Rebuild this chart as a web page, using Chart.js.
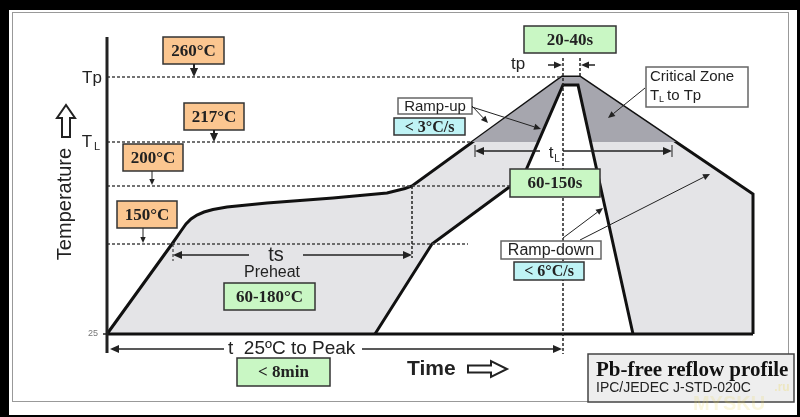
<!DOCTYPE html>
<html>
<head>
<meta charset="utf-8">
<script src="https://cdn.jsdelivr.net/npm/chart.js"></script>
<style>
  html, body { margin: 0; padding: 0; background: #000; }
  canvas { display: block; }
</style>
</head>
<body>
<canvas id="reflowChart" width="800" height="417"></canvas>
<script>
// Schematic units: time along the baseline, height above 25°C
const levelLabels = ['25', '150°C', '200°C', '217°C', '260°C'];
const levelHeights = [0, 90, 148, 192, 257];
const levelLineEnds = [0, 361, 403, 365, 453];

// outer profile (slowest allowed)
const outerTime = [0, 65, 74, 79, 84, 90, 97, 106, 120, 160, 226, 280, 298, 305, 455, 473, 646, 646];
const outerHeight = [0, 90, 103, 110, 115, 119, 122, 124.5, 127, 131, 136, 141, 145.5, 148, 257, 257, 140, 0];

// inner profile (fastest allowed)
const innerTime = [268, 325, 416, 456, 471, 526];
const innerHeight = [0, 90, 157, 249, 249, 0];

// critical zone, TL to Tp
const critTime = [365, 455, 473, 569];
const critHeight = [192, 257, 257, 192];

const toPts = (xs, ys) => xs.map((x, i) => ({ x: x, y: ys[i] }));

function seg(ctx, x1, y1, x2, y2, w, dash) {
  ctx.save();
  ctx.lineWidth = w;
  ctx.strokeStyle = '#222';
  ctx.setLineDash(dash || []);
  ctx.beginPath();
  ctx.moveTo(x1, y1);
  ctx.lineTo(x2, y2);
  ctx.stroke();
  ctx.restore();
}

function arrow(ctx, x1, y1, x2, y2, w, head) {
  const a = Math.atan2(y2 - y1, x2 - x1);
  const bx = x2 - head * Math.cos(a), by = y2 - head * Math.sin(a);
  seg(ctx, x1, y1, bx, by, w);
  const hw = head * 0.45;
  ctx.save();
  ctx.fillStyle = '#222';
  ctx.beginPath();
  ctx.moveTo(x2, y2);
  ctx.lineTo(bx + hw * Math.sin(a), by - hw * Math.cos(a));
  ctx.lineTo(bx - hw * Math.sin(a), by + hw * Math.cos(a));
  ctx.closePath();
  ctx.fill();
  ctx.restore();
}

function box(ctx, x1, y1, x2, y2, fill, stroke, w) {
  ctx.save();
  ctx.fillStyle = fill;
  ctx.fillRect(x1, y1, x2 - x1, y2 - y1);
  ctx.lineWidth = w;
  ctx.strokeStyle = stroke;
  ctx.strokeRect(x1, y1, x2 - x1, y2 - y1);
  ctx.restore();
}

function text(ctx, str, x, y, font, align, color) {
  ctx.save();
  ctx.font = font;
  ctx.fillStyle = color || '#222';
  ctx.textAlign = align || 'center';
  ctx.textBaseline = 'middle';
  ctx.fillText(str, x, y);
  ctx.restore();
}

// hollow block arrow, like ⇨ / ⇧
function hollowArrow(ctx, pts) {
  ctx.save();
  ctx.fillStyle = '#fff';
  ctx.strokeStyle = '#222';
  ctx.lineWidth = 2;
  ctx.beginPath();
  pts.forEach((p, i) => i ? ctx.lineTo(p[0], p[1]) : ctx.moveTo(p[0], p[1]));
  ctx.closePath();
  ctx.fill();
  ctx.stroke();
  ctx.restore();
}

const panel = {
  id: 'panel',
  beforeDraw(chart) {
    const ctx = chart.ctx;
    ctx.save();
    ctx.fillStyle = '#000';
    ctx.fillRect(0, 0, chart.width, chart.height);
    ctx.fillStyle = '#fff';
    ctx.fillRect(9, 10, 788, 405);
    ctx.strokeStyle = '#999';
    ctx.lineWidth = 1;
    ctx.strokeRect(12.5, 12.5, 776, 389);
    ctx.restore();
  }
};

const ORANGE = '#fbc690', GREEN = '#c9f7c4', CYAN = '#bff3f5';
const SERIF = 'bold 17px "Liberation Serif"';
const SANS = '"Liberation Sans", Arial, sans-serif';

const annotate = {
  id: 'annotate',
  afterDatasetsDraw(chart) {
    const ctx = chart.ctx;
    const X = t => chart.scales.x.getPixelForValue(t);
    const Y = h => chart.scales.y.getPixelForValue(h);
    const ubox = (t1, h1, t2, h2, fill, str, font) => {
      box(ctx, X(t1), Y(h1), X(t2), Y(h2), fill, fill === '#fff' ? '#666' : '#333', 1.5);
      text(ctx, str, (X(t1) + X(t2)) / 2, (Y(h1) + Y(h2)) / 2 + 1, font || SERIF);
    };

    // y axis
    seg(ctx, X(0), Y(297), X(0), Y(-19), 3);
    seg(ctx, X(-4), Y(0), X(0), Y(0), 1.5);
    text(ctx, levelLabels[0], X(-14), Y(0), '9px ' + SANS, 'center', '#777');
    text(ctx, 'Tp', X(-15), Y(levelHeights[4]) + 1, '17px ' + SANS);
    text(ctx, 'T', X(-20), Y(levelHeights[3]), '17px ' + SANS);
    text(ctx, 'L', X(-10), Y(levelHeights[3]) + 5, '11px ' + SANS);

    // axis titles
    ctx.save();
    ctx.translate(X(-42), Y(130));
    ctx.rotate(-Math.PI / 2);
    text(ctx, 'Temperature', 0, 0, '20px ' + SANS);
    ctx.restore();
    const ax = X(-41);
    hollowArrow(ctx, [[ax - 4, Y(197)], [ax - 4, Y(216)], [ax - 9, Y(216)], [ax, Y(229)],
      [ax + 9, Y(216)], [ax + 4, Y(216)], [ax + 4, Y(197)]]);
    text(ctx, 'Time', X(300), Y(-35), 'bold 21px ' + SANS, 'left');
    const ay = Y(-35);
    hollowArrow(ctx, [[X(361), ay - 3.5], [X(384), ay - 3.5], [X(384), ay - 8], [X(400), ay],
      [X(384), ay + 8], [X(384), ay + 3.5], [X(361), ay + 3.5]]);

    // vertical dashed markers
    const dash = [3, 2];
    seg(ctx, X(456), Y(276), X(456), Y(-20), 1.5, dash);
    seg(ctx, X(473), Y(276), X(473), Y(257), 1.5, dash);
    seg(ctx, X(305), Y(148), X(305), Y(76), 1.5, dash);
    seg(ctx, X(66), Y(90), X(66), Y(73), 1, dash);

    // temperature call-outs
    ubox(56, 297, 117, 270, ORANGE, levelLabels[4]);
    arrow(ctx, X(87), Y(270), X(87), Y(levelHeights[4]), 2, 9);
    ubox(77, 231, 137, 204, ORANGE, levelLabels[3]);
    arrow(ctx, X(107), Y(204), X(107), Y(levelHeights[3]), 2, 9);
    ubox(16, 190, 76, 163, ORANGE, levelLabels[2]);
    arrow(ctx, X(45), Y(163), X(45), Y(levelHeights[2] + 1), 1, 6);
    ubox(10, 133, 70, 106, ORANGE, levelLabels[1]);
    arrow(ctx, X(36), Y(106), X(36), Y(levelHeights[1] + 1), 1, 6);

    // preheat ts
    arrow(ctx, X(142), Y(79), X(66), Y(79), 1.5, 9);
    arrow(ctx, X(196), Y(79), X(305), Y(79), 1.5, 9);
    text(ctx, 'ts', X(169), Y(79), '20px ' + SANS);
    text(ctx, 'Preheat', X(165), Y(61), '16px ' + SANS);
    ubox(117, 51, 208, 24, GREEN, '60-180°C');

    // 25°C to peak
    arrow(ctx, X(117), Y(-15), X(3), Y(-15), 1.5, 9);
    arrow(ctx, X(255), Y(-15), X(455), Y(-15), 1.5, 9);
    text(ctx, 't  25ºC to Peak', X(121), Y(-15), '19px ' + SANS, 'left');
    ubox(130, -24, 223, -52, GREEN, '< 8min');

    // time at peak
    ubox(417, 308, 509, 281, GREEN, '20-40s');
    text(ctx, 'tp', X(411), Y(270), '17px ' + SANS);
    arrow(ctx, X(441), Y(269), X(455), Y(269), 1.5, 8);
    arrow(ctx, X(488), Y(269), X(474), Y(269), 1.5, 8);

    // ramp-up
    ubox(291, 236, 365, 220, '#fff', 'Ramp-up', '15px ' + SANS);
    ubox(287, 216, 358, 199, CYAN, '< 3°C/s', 'bold 16px "Liberation Serif"');
    arrow(ctx, X(365), Y(228), X(381), Y(211), 1, 7);
    arrow(ctx, X(365), Y(227), X(434), Y(205), 1, 7);

    // critical zone
    box(ctx, X(539), Y(267), X(641), Y(227), '#fff', '#666', 1.5);
    text(ctx, 'Critical Zone', X(543), Y(257), '15px ' + SANS, 'left');
    text(ctx, 'T', X(543), Y(238), '15px ' + SANS, 'left');
    text(ctx, 'L', X(552), Y(234), '9px ' + SANS, 'left');
    text(ctx, 'to Tp', X(560), Y(238), '15px ' + SANS, 'left');
    arrow(ctx, X(538), Y(246), X(501), Y(216), 1, 7);

    // time above liquidus
    seg(ctx, X(368), Y(189), X(368), Y(177), 1);
    seg(ctx, X(565), Y(189), X(565), Y(177), 1);
    arrow(ctx, X(433), Y(183), X(368), Y(183), 1.5, 9);
    arrow(ctx, X(456), Y(183), X(565), Y(183), 1.5, 9);
    text(ctx, 't', X(444), Y(181), '17px ' + SANS);
    text(ctx, 'L', X(450), Y(175), '10px ' + SANS);
    ubox(403, 165, 493, 137, GREEN, '60-150s');

    // ramp-down
    arrow(ctx, X(456), Y(96), X(496), Y(126), 1, 7);
    arrow(ctx, X(473), Y(94), X(603), Y(160), 1, 7);
    ubox(394, 93, 494, 75, '#fff', 'Ramp-down', '16px ' + SANS);
    ubox(407, 72, 477, 54, CYAN, '< 6°C/s', 'bold 16px "Liberation Serif"');

    // title block
    box(ctx, X(481), Y(-20), X(687), Y(-68), '#eeeeee', '#444', 1.5);
    text(ctx, 'Pb-free reflow profile', X(489), Y(-37), 'bold 21px "Liberation Serif"', 'left', '#111');
    text(ctx, 'IPC/JEDEC J-STD-020C', X(489), Y(-54), '14px ' + SANS, 'left', '#222');

    // faint watermark
    text(ctx, 'MYSKU', X(622), Y(-70), 'bold 20px ' + SANS, 'center', 'rgba(235,215,90,0.2)');
    text(ctx, '.ru', X(675), Y(-54), 'bold 12px ' + SANS, 'center', 'rgba(235,215,90,0.3)');
  }
};

const profileLine = { showLine: true, pointRadius: 0, tension: 0, clip: false };

const levelLines = [1, 2, 3, 4].map(i => Object.assign({}, profileLine, {
  label: levelLabels[i],
  data: toPts([0, levelLineEnds[i]], [levelHeights[i], levelHeights[i]]),
  borderColor: '#444',
  borderWidth: 1.5,
  borderDash: [3, 2],
  fill: false,
  order: 1
}));

new Chart(document.getElementById('reflowChart'), {
  type: 'scatter',
  data: {
    datasets: [
      Object.assign({}, profileLine, {
        label: 'baseline',
        data: toPts([0, 646], [0, 0]),
        borderColor: '#111',
        borderWidth: 3,
        fill: false,
        order: 0
      }),
      ...levelLines,
      Object.assign({}, profileLine, {
        label: 'inner',
        data: toPts(innerTime, innerHeight),
        borderColor: '#111',
        borderWidth: 3,
        backgroundColor: '#ffffff',
        fill: 'origin',
        order: 2
      }),
      Object.assign({}, profileLine, {
        label: 'critical zone',
        data: toPts(critTime, critHeight),
        borderColor: 'rgba(0,0,0,0)',
        borderWidth: 1,
        backgroundColor: '#a6a6ae',
        fill: { value: levelHeights[3] },
        order: 3
      }),
      Object.assign({}, profileLine, {
        label: 'outer',
        data: toPts(outerTime, outerHeight),
        borderColor: '#111',
        borderWidth: 3,
        backgroundColor: '#e4e4e7',
        fill: 'origin',
        order: 4
      })
    ]
  },
  options: {
    responsive: false,
    animation: false,
    layout: { padding: { left: 107, right: 47, top: 37, bottom: 64 } },
    scales: {
      x: { type: 'linear', min: 0, max: 646, display: false },
      y: { type: 'linear', min: -19, max: 297, display: false }
    },
    plugins: {
      legend: { display: false },
      tooltip: { enabled: false }
    }
  },
  plugins: [panel, annotate]
});
</script>
</body>
</html>
